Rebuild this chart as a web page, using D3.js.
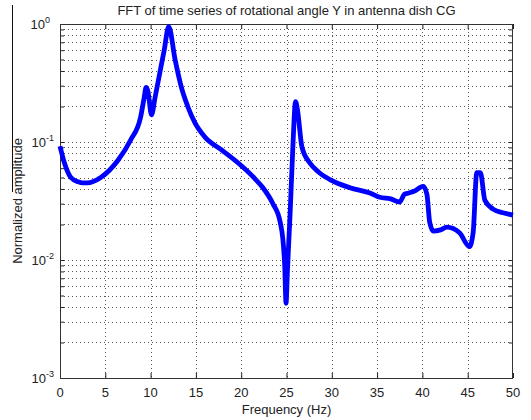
<!DOCTYPE html>
<html>
<head>
<meta charset="utf-8">
<script src="https://cdn.jsdelivr.net/npm/d3@7"></script>
<style>
  body { margin: 0; background: #fff; }
  text { font-family: Arial, "Liberation Sans", sans-serif; fill: #222; }
</style>
</head>
<body>
<script>
// spectrum (Hz, normalized amplitude)
var freq = [0, 0.5, 1.2, 2, 2.5, 3, 4.5, 6.4, 7.8, 8.9, 9.3, 9.5, 9.7, 10.1, 10.5, 11, 11.5, 12, 12.7, 13.4, 14.1, 14.9, 16, 17.8, 19.7, 21.5, 22.4, 23.5, 24.3, 24.6, 24.8, 24.95, 25.1, 25.4, 25.7, 26, 26.2, 26.7, 27.6, 28.5, 29.8, 32, 34.2, 35.3, 36.5, 37.5, 38, 38.5, 39, 40.1, 40.5, 40.8, 41.2, 42, 42.7, 44.1, 45.2, 45.6, 46, 46.4, 46.9, 47.8, 49, 50];
var amp = [0.092, 0.066, 0.05, 0.046, 0.045, 0.045, 0.05, 0.07, 0.104, 0.163, 0.24, 0.29, 0.27, 0.17, 0.24, 0.38, 0.6, 0.95, 0.5, 0.29, 0.2, 0.145, 0.11, 0.086, 0.066, 0.049, 0.041, 0.03, 0.021, 0.015, 0.009, 0.0043, 0.008, 0.025, 0.09, 0.22, 0.19, 0.091, 0.066, 0.056, 0.048, 0.041, 0.037, 0.034, 0.033, 0.031, 0.036, 0.037, 0.038, 0.042, 0.036, 0.021, 0.0176, 0.018, 0.019, 0.017, 0.013, 0.017, 0.055, 0.055, 0.032, 0.027, 0.025, 0.024];

var xTicks = [0, 5, 10, 15, 20, 25, 30, 35, 40, 45, 50];
var yDecades = [-3, -2, -1, 0];

var titleText = "FFT of time series of rotational angle Y in antenna dish CG";
var xLabel = "Frequency (Hz)";
var yLabel = "Normalized amplitude";

var width = 531, height = 420;
// plot box edges (window.top is reserved, so use own names)
var pLeft = 60, pRight = 513, pTop = 24, pBottom = 378;

var svg = d3.select("body").append("svg")
    .attr("width", width)
    .attr("height", height);

var x = d3.scaleLinear().domain([0, 50]).range([pLeft, pRight]);
var y = d3.scaleLog().domain([1e-3, 1]).range([pBottom, pTop]);

// minor + major values for the log grid
var yGrid = [];
for (var d = -3; d < 0; d++) {
  for (var k = 1; k < 10; k++) yGrid.push(k * Math.pow(10, d));
}
yGrid.push(1);

var grid = svg.append("g").attr("stroke", "#555").attr("stroke-width", 1)
    .attr("stroke-dasharray", "1,3");

grid.selectAll(".gx").data(xTicks.slice(1, -1)).enter().append("line")
    .attr("x1", function(d){ return Math.round(x(d)) + 0.5; })
    .attr("x2", function(d){ return Math.round(x(d)) + 0.5; })
    .attr("y1", pTop).attr("y2", pBottom);

grid.selectAll(".gy").data(yGrid.filter(function(v){ return v > 1.001e-3 && v < 0.999; })).enter().append("line")
    .attr("y1", function(d){ return Math.round(y(d)) + 0.5; })
    .attr("y2", function(d){ return Math.round(y(d)) + 0.5; })
    .attr("x1", pLeft).attr("x2", pRight);

// axes (ticks pointing inward, like matlab)
var xAxisB = d3.axisTop(x).tickValues(xTicks).tickSize(5).tickFormat("");
var xAxisT = d3.axisBottom(x).tickValues(xTicks).tickSize(5).tickFormat("");
var yAxisL = d3.axisRight(y).tickValues(yGrid).tickSize(4).tickFormat("");
var yAxisR = d3.axisLeft(y).tickValues(yGrid).tickSize(4).tickFormat("");

svg.append("g").attr("transform", "translate(0," + pBottom + ")").call(xAxisB);
svg.append("g").attr("transform", "translate(0," + pTop + ")").call(xAxisT);
svg.append("g").attr("transform", "translate(" + pLeft + ",0)").call(yAxisL);
svg.append("g").attr("transform", "translate(" + pRight + ",0)").call(yAxisR);
svg.selectAll(".domain").remove();
svg.selectAll(".tick line").attr("stroke", "#222");

svg.append("rect")
    .attr("x", pLeft + 0.5).attr("y", pTop + 0.5)
    .attr("width", pRight - pLeft - 1).attr("height", pBottom - pTop)
    .attr("fill", "none").attr("stroke", "#333");

// curve
var line = d3.line()
    .x(function(d, i){ return x(freq[i]); })
    .y(function(d){ return y(d); })
    .curve(d3.curveMonotoneX);

svg.append("path")
    .datum(amp)
    .attr("d", line)
    .attr("fill", "none")
    .attr("stroke", "#0000ff")
    .attr("stroke-width", 4.8)
    .attr("stroke-linejoin", "round");

// tick labels
svg.selectAll(".xl").data(xTicks).enter().append("text")
    .attr("x", function(d){ return x(d); })
    .attr("y", pBottom + 19)
    .attr("text-anchor", "middle")
    .attr("font-size", 13)
    .text(function(d){ return d; });

var yl = svg.selectAll(".yl").data(yDecades).enter().append("text")
    .attr("x", function(d){ return d === 0 ? pLeft - 10 : pLeft - 6; })
    .attr("y", function(d){ return y(Math.pow(10, d)) + 5; })
    .attr("text-anchor", "end")
    .attr("font-size", 13);
yl.append("tspan").text("10");
yl.append("tspan").attr("dy", -6).attr("font-size", 9).text(function(d){ return d; });

// titles
svg.append("text")
    .attr("x", (pLeft + pRight) / 2).attr("y", 15)
    .attr("text-anchor", "middle").attr("font-size", 13)
    .text(titleText);

svg.append("text")
    .attr("x", (pLeft + pRight) / 2).attr("y", 414)
    .attr("text-anchor", "middle").attr("font-size", 13)
    .text(xLabel);

svg.append("text")
    .attr("transform", "translate(22," + ((pTop + pBottom) / 2) + ") rotate(-90)")
    .attr("text-anchor", "middle").attr("font-size", 13)
    .text(yLabel);

// stray edge line in the screenshot
svg.append("line")
    .attr("x1", 12.5).attr("x2", 12.5).attr("y1", 5).attr("y2", 192)
    .attr("stroke", "#111");
</script>
</body>
</html>
